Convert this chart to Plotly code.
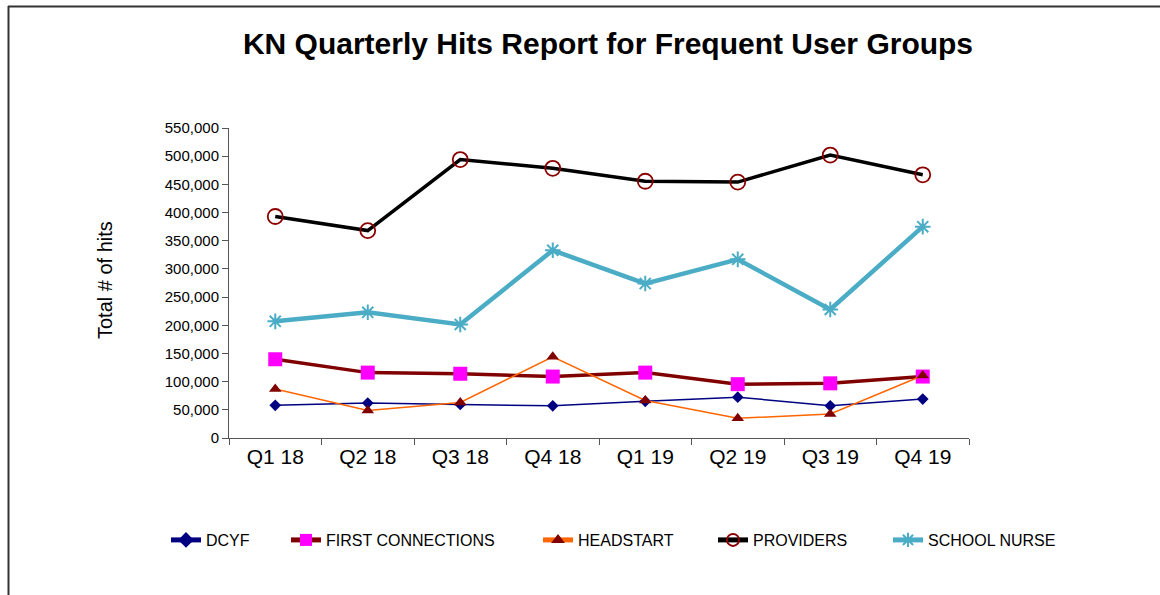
import plotly.graph_objects as go

quarters = ["Q1 18", "Q2 18", "Q3 18", "Q4 18", "Q1 19", "Q2 19", "Q3 19", "Q4 19"]
dcyf = [58000, 62000, 59500, 57000, 65000, 72500, 57000, 69000]
first_connections = [139700, 116000, 114000, 109000, 116000, 95500, 97000, 109000]
headstart = [87000, 49000, 63000, 144000, 66500, 35000, 42500, 111000]
providers = [393000, 368000, 494000, 478500, 455500, 454000, 502000, 467000]
school_nurse = [207000, 223000, 201500, 333000, 274000, 317000, 228000, 375000]

L, R, T, B = 229, 969, 128, 438
W, H = 1160, 595
PW, PH = R - L, B - T

def px(x):
    return (x - L) / PW

def py(y):
    return (B - y) / PH

FONT = "Liberation Sans, Arial, sans-serif"

fig = go.Figure()

fig.add_trace(go.Scatter(
    x=quarters, y=dcyf, name="DCYF", mode="lines+markers",
    line=dict(color="#000080", width=1.5),
    marker=dict(symbol="diamond", size=9, color="#000080"),
    legend="legend2"))
fig.add_trace(go.Scatter(
    x=quarters, y=first_connections, name="FIRST CONNECTIONS", mode="lines+markers",
    line=dict(color="#800000", width=3.5),
    marker=dict(symbol="square", size=14, color="#FF00FF", line=dict(width=0)),
    legend="legend3"))
fig.add_trace(go.Scatter(
    x=quarters, y=headstart, name="HEADSTART", mode="lines+markers",
    line=dict(color="#FF6600", width=1.5),
    marker=dict(symbol="triangle-up", size=11, color="#800000"),
    legend="legend4"))
fig.add_trace(go.Scatter(
    x=quarters, y=providers, name="PROVIDERS", mode="lines+markers",
    line=dict(color="#000000", width=3.5),
    marker=dict(symbol="circle-open", size=15, color="#8B0000", line=dict(width=1.8, color="#8B0000")),
    legend="legend5"))
fig.add_trace(go.Scatter(
    x=quarters, y=school_nurse, name="SCHOOL NURSE", mode="lines+markers",
    line=dict(color="#4BACC6", width=4.5),
    marker=dict(symbol="asterisk-open", size=13, color="#4BACC6", line=dict(width=2, color="#4BACC6")),
    legend="legend6"))

legend_font = dict(family=FONT, size=16, color="#000000")
leg_y = py(540)
leg_common = dict(orientation="h", yanchor="middle", y=leg_y, xanchor="left",
                  font=legend_font, bgcolor="rgba(0,0,0,0)", itemwidth=30,
                  itemsizing="constant")
legend_text_x = [206, 326, 578, 753, 928]
legend_x = [t - 40 for t in legend_text_x]

frame = dict(color="#333333", width=2)

fig.update_layout(
    width=W, height=H,
    paper_bgcolor="white", plot_bgcolor="white",
    margin=dict(l=L, r=W - R, t=T, b=H - B, pad=0),
    title=dict(text="<b>KN Quarterly Hits Report for Frequent User Groups</b>",
               x=608 / W, xanchor="center", y=1 - 43 / H, yanchor="middle", yref="container",
               font=dict(family=FONT, size=30, color="#000000")),
    showlegend=True,
    legend=dict(visible=False),
    legend2=dict(x=px(legend_x[0]), **leg_common),
    legend3=dict(x=px(legend_x[1]), **leg_common),
    legend4=dict(x=px(legend_x[2]), **leg_common),
    legend5=dict(x=px(legend_x[3]), **leg_common),
    legend6=dict(x=px(legend_x[4]), **leg_common),
    xaxis=dict(
        type="category", showgrid=False, zeroline=False,
        showline=True, linecolor="#555555", linewidth=1,
        ticks="outside", ticklen=6, tickcolor="#555555", tickson="boundaries",
        tickfont=dict(family=FONT, size=21, color="#000000"),
        range=[-0.5, 7.5]),
    yaxis=dict(
        range=[0, 550000], dtick=50000, tickformat=",",
        showgrid=False, zeroline=False,
        showline=True, linecolor="#555555", linewidth=1,
        ticks="outside", ticklen=6, tickcolor="#555555",
        tickfont=dict(family=FONT, size=15, color="#000000")),
    annotations=[dict(
        text="Total # of hits", textangle=-90, showarrow=False,
        xref="paper", yref="paper", x=px(105), y=py(280), xanchor="center", yanchor="middle",
        font=dict(family=FONT, size=20, color="#000000"))],
    shapes=[
        dict(type="line", xref="paper", yref="paper",
             x0=px(8), x1=px(1165), y0=py(6.5), y1=py(6.5), line=frame, layer="above"),
        dict(type="line", xref="paper", yref="paper",
             x0=px(8.5), x1=px(8.5), y0=py(6), y1=py(600), line=frame, layer="above"),
    ],
)

fig.write_html("out.html", config={"displayModeBar": False},
               post_script="document.body.style.margin='0';document.body.style.overflow='hidden';")
